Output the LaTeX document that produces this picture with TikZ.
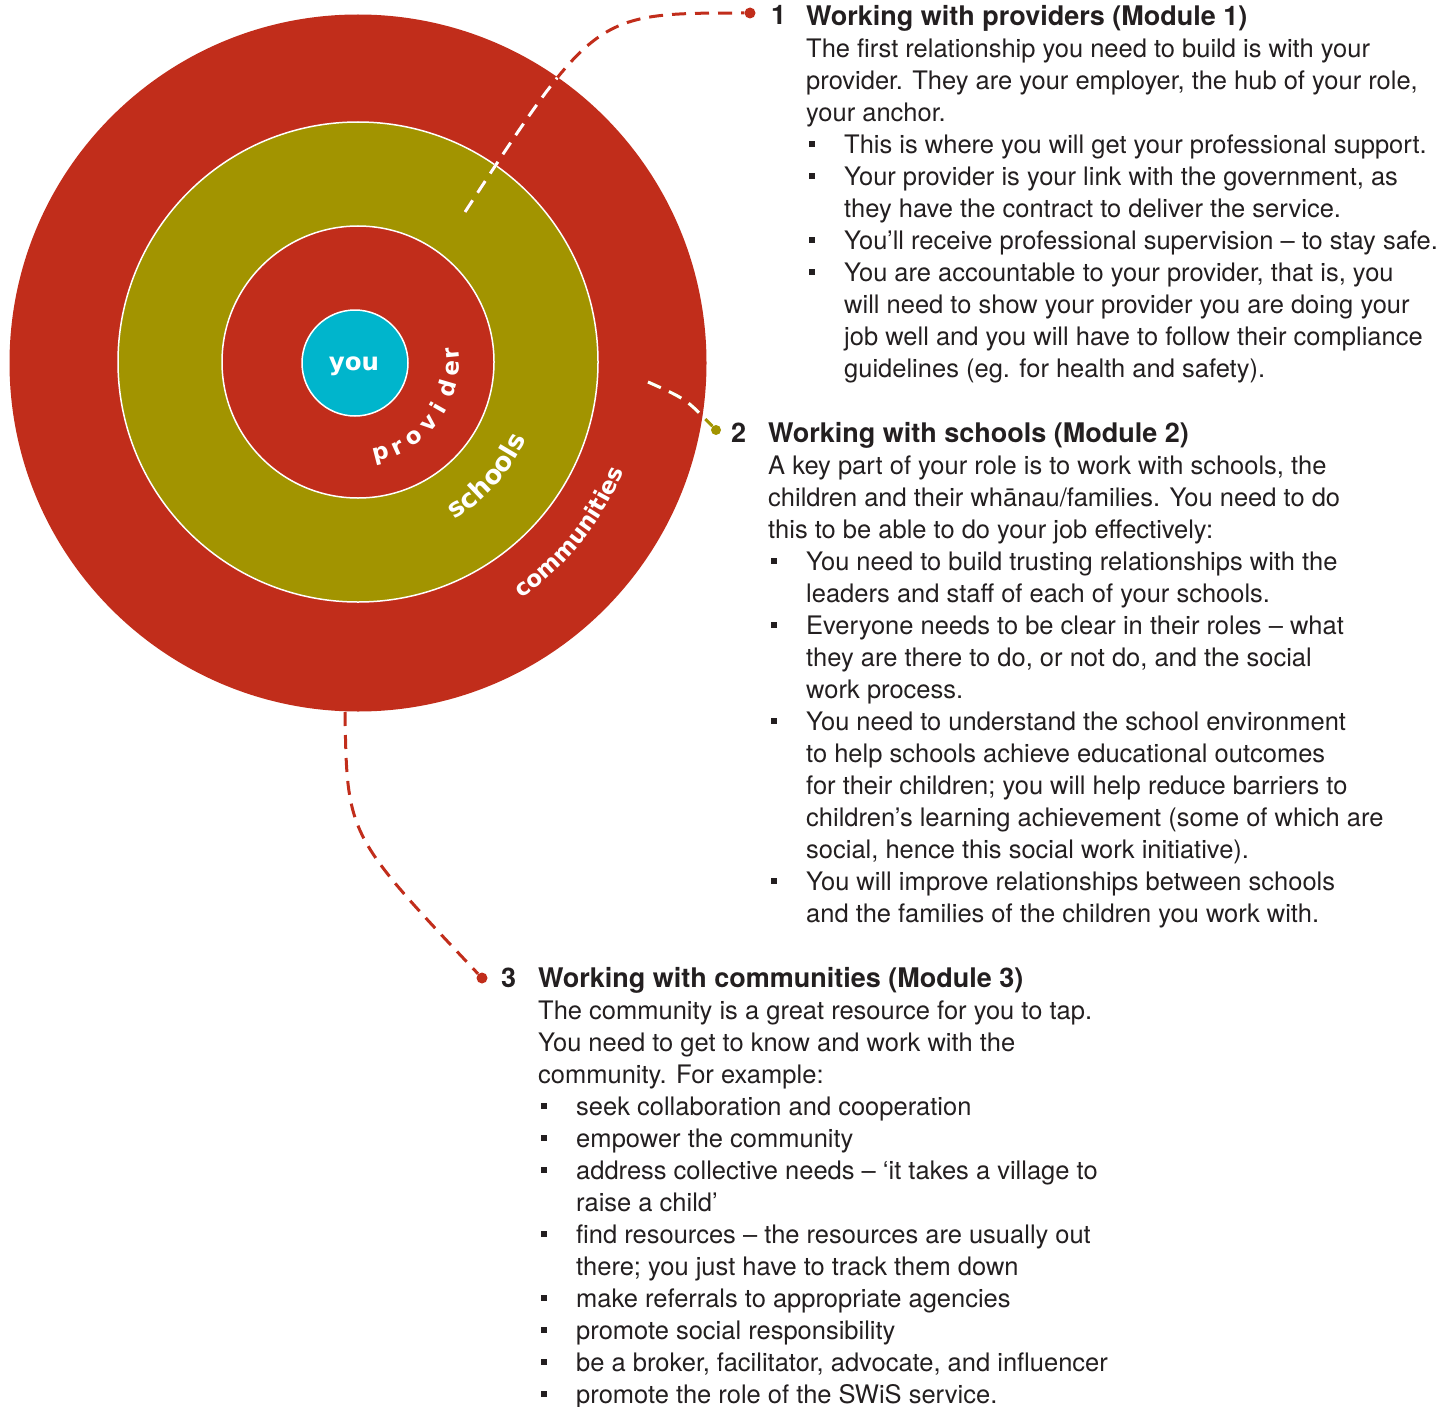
\documentclass[tikz,border=0pt]{standalone}
\usepackage{fontspec}
\setmainfont{TeX Gyre Heros}
\newfontfamily\ringfont{DejaVu Sans}
\usepackage{tikz}
\usetikzlibrary{calc,decorations.text}

\definecolor{ringred}{HTML}{C12D1B}
\definecolor{ringolive}{HTML}{A29400}
\definecolor{youblue}{HTML}{00B5CC}
\definecolor{inktext}{HTML}{231F20}

\newcommand{\modhead}[1]{{\fontsize{27}{32}\selectfont\bfseries #1}}
\newcommand{\bitem}{\makebox[38pt][l]{\hspace{3pt}\rule[7pt]{5.5pt}{5.5pt}}}
\newcommand{\bcont}{\hspace*{38pt}}

\begin{document}
\begin{tikzpicture}[
    x=1pt, y=1pt,
    ring/.style={circle, inner sep=0pt},
    ringlbl/.style={text=white, inner sep=0pt,
                    font=\ringfont\bfseries\fontsize{23}{23}\selectfont},
    blk/.style={anchor=north west, inner sep=0pt, align=left, text=inktext,
                font=\fontsize{25.5}{32}\selectfont},
    num/.style={anchor=base west, inner sep=0pt, text=inktext,
                font=\fontsize{27}{32}\selectfont\bfseries},
    dot/.style={circle, inner sep=0pt, minimum size=11pt},
    link/.style={line width=3pt, dash pattern=on 14pt off 9pt}
]
\useasboundingbox (0,0) rectangle (1456,-1407);

% rings
\coordinate (ctr) at (358,-362);
\node[ring, fill=ringred, minimum size=697pt]                          (outer)  at (358,-363) {};
\node[ring, fill=ringolive, draw=white, line width=1.5pt, minimum size=480pt] (school) at (ctr) {};
\node[ring, fill=ringred, draw=white, line width=1.5pt, minimum size=272pt]   (prov)   at (ctr) {};
\node[ring, fill=youblue, draw=white, line width=1.5pt, minimum size=106pt]   (youc)   at (355,-363) {};
\node[ringlbl, font=\ringfont\bfseries\fontsize{24.5}{24.5}\selectfont] (you) at (354,-366) {you};

% ring labels
\foreach \ch/\ang [count=\k] in {p/-75.7, r/-65.3, o/-53.5, v/-40.6, i/-29.7, d/-16.3, e/-3.7, r/5.4}
  \node[ringlbl, anchor=base, rotate=\ang+90] (pv\k) at ($(ctr)+(\ang:101)$) {\ch};
\path[decorate, decoration={text along path, text align=left,
      text={|\ringfont\bfseries\fontsize{26}{26}\selectfont\color{white}|schools}}]
  (ctr) ++(-58.5:185) arc[start angle=-58.5, end angle=10, radius=185];
\path[decorate, decoration={text along path, text align=left,
      text={|\ringfont\bfseries\fontsize{23}{23}\selectfont\color{white}|communities}}]
  (ctr) ++(-55.4:287) arc[start angle=-55.4, end angle=0, radius=287];

% connectors
\coordinate (c1) at (465,-212);
\coordinate (c2) at (648,-382);
\coordinate (c3) at (345,-712);
\node[dot, fill=ringred]   (d1) at (750,-13) {};
\node[dot, fill=ringolive, minimum size=10pt] (d2) at (716,-430) {};
\node[dot, fill=ringred]   (d3) at (482,-978) {};
\draw[link, draw=ringred]   (c1) .. controls (595,-13) .. (d1);
\draw[link, draw=ringolive] (c2) .. controls (686,-399) .. (d2);
\draw[link, draw=ringred]   (c3) .. controls (347,-835) .. (d3);
\begin{scope}
  \clip (358,-363) circle[radius=348];
  \draw[link, draw=white] (c1) .. controls (595,-13) .. (d1);
  \draw[link, draw=white] (c2) .. controls (686,-399) .. (d2);
\end{scope}

% module texts
\node[num] (n1) at (771,-25) {1};
\node[blk] (m1) at (806,-5.3) {%
\modhead{Working with providers (Module 1)}\\
The first relationship you need to build is with your\\
provider. They are your employer, the hub of your role,\\
your anchor.\\
\bitem This is where you will get your professional support.\\
\bitem Your provider is your link with the government, as\\
\bcont they have the contract to deliver the service.\\
\bitem You’ll receive professional supervision – to stay safe.\\
\bitem You are accountable to your provider, that is, you\\
\bcont will need to show your provider you are doing your\\
\bcont job well and you will have to follow their compliance\\
\bcont guidelines (eg. for health and safety).};

\node[num] (n2) at (731,-442) {2};
\node[blk] (m2) at (768,-422.3) {%
\modhead{Working with schools (Module 2)}\\
A key part of your role is to work with schools, the\\
children and their whānau/families. You need to do\\
this to be able to do your job effectively:\\
\bitem You need to build trusting relationships with the\\
\bcont leaders and staff of each of your schools.\\
\bitem Everyone needs to be clear in their roles – what\\
\bcont they are there to do, or not do, and the social\\
\bcont work process.\\
\bitem You need to understand the school environment\\
\bcont to help schools achieve educational outcomes\\
\bcont for their children; you will help reduce barriers to\\
\bcont children’s learning achievement (some of which are\\
\bcont social, hence this social work initiative).\\
\bitem You will improve relationships between schools\\
\bcont and the families of the children you work with.};

\node[num] (n3) at (501,-987) {3};
\node[blk] (m3) at (538,-967.3) {%
\modhead{Working with communities (Module 3)}\\
The community is a great resource for you to tap.\\
You need to get to know and work with the\\
community. For example:\\
\bitem seek collaboration and cooperation\\
\bitem empower the community\\
\bitem address collective needs – ‘it takes a village to\\
\bcont raise a child’\\
\bitem find resources – the resources are usually out\\
\bcont there; you just have to track them down\\
\bitem make referrals to appropriate agencies\\
\bitem promote social responsibility\\
\bitem be a broker, facilitator, advocate, and influencer\\
\bitem promote the role of the SWiS service.};
\end{tikzpicture}
\end{document}
